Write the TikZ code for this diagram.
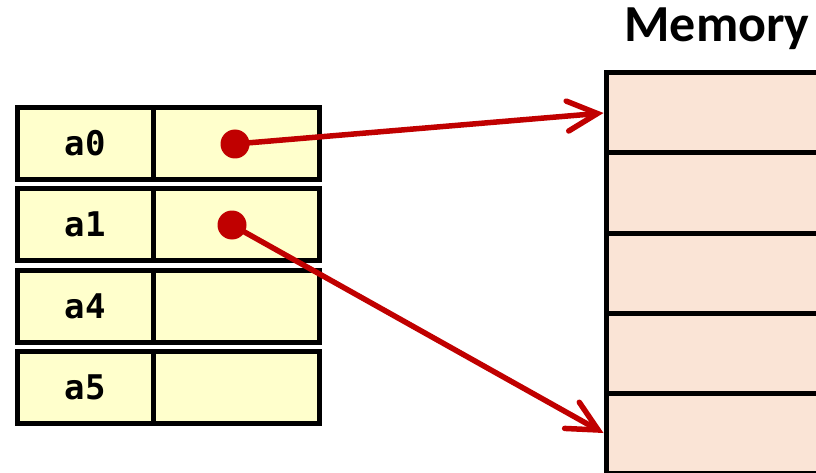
\documentclass[tikz,border=0pt]{standalone}
\usepackage{fontspec}
\setmainfont{Carlito}
\newfontfamily\codefont{DejaVu Sans Mono}
\usetikzlibrary{arrows.meta}
\definecolor{cellyellow}{RGB}{255,255,204}
\definecolor{mempeach}{RGB}{250,228,214}
\definecolor{ptrred}{RGB}{192,0,0}
\tikzset{
  regcell/.style={draw=black, line width=5pt, fill=cellyellow, rectangle, inner sep=0pt, minimum height=72pt},
  namecell/.style={regcell, minimum width=135.5pt, font=\codefont\bfseries\fontsize{34}{40}\selectfont},
  valcell/.style={regcell, minimum width=166.5pt},
  memcell/.style={draw=black, line width=5pt, fill=mempeach, rectangle, inner sep=0pt, minimum height=80pt, minimum width=400pt},
  ptrdot/.style={circle, fill=ptrred, inner sep=0pt, minimum size=29pt},
  ptr/.style={draw=ptrred, line width=5.5pt, line cap=round, -{Straight Barb[length=30pt,width=30pt,line cap=round]}},
  title/.style={font=\bfseries\fontsize{52}{60}\selectfont, anchor=base}
}
\begin{document}
\begin{tikzpicture}[x=1pt,y=-1pt]
\useasboundingbox (0,0) rectangle (816,473);
\clip (0,0) rectangle (816,473);
% memory column
\node[memcell] (m1) at (806,113) {};
\node[memcell] (m2) at (806,193) {};
\node[memcell] (m3) at (806,273) {};
\node[memcell] (m4) at (806,353) {};
\node[memcell] (m5) at (806,433) {};
\node[title] (mt) at (717,42) {Memory};
% registers
\node[namecell] (n0) at (85.25,143.5) {a0};
\node[valcell]  (v0) at (236.25,143.5) {};
\node[namecell] (n1) at (85.25,224.5) {a1};
\node[valcell]  (v1) at (236.25,224.5) {};
\node[namecell] (n4) at (85.25,306) {a4};
\node[valcell]  (v4) at (236.25,306) {};
\node[namecell] (n5) at (85.25,387) {a5};
\node[valcell]  (v5) at (236.25,387) {};
% pointers
\node[ptrdot] (d0) at (235,144) {};
\node[ptrdot] (d1) at (232,225) {};
\draw[ptr] (d0.center) -- (m1.west);
\draw[ptr] (d1.center) -- (m5.west);
\end{tikzpicture}
\end{document}
